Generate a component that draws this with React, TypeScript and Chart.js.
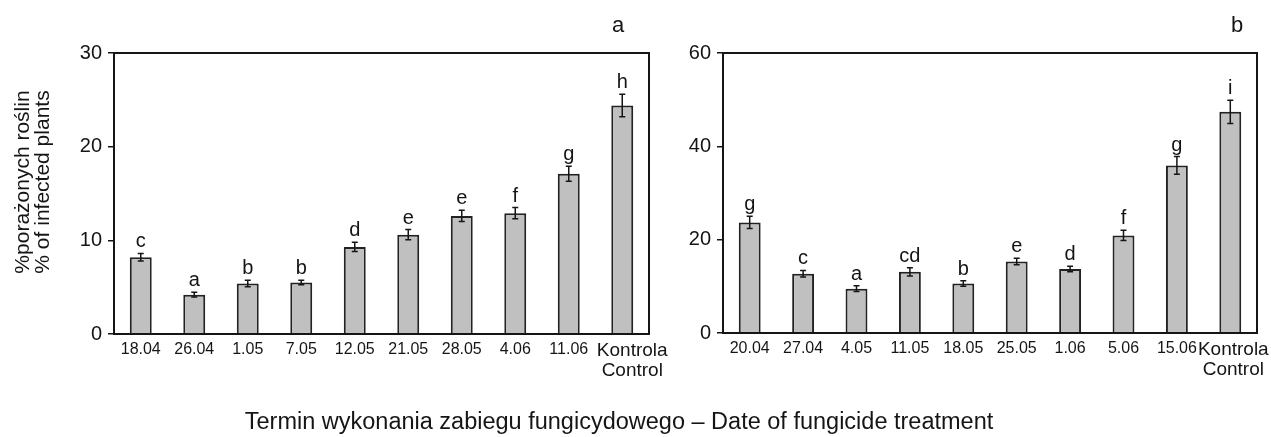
import React, { useEffect, useRef } from "react";
import { Chart, registerables } from "chart.js";

Chart.register(...registerables);

// ---- data ----
const categoriesA: (string | string[])[] = ["18.04", "26.04", "1.05", "7.05", "12.05", "21.05", "28.05", "4.06", "11.06", ["Kontrola", "Control"]];
const valuesA = [8.2, 4.2, 5.4, 5.5, 9.3, 10.6, 12.6, 12.9, 17.1, 24.4];
const errorsA = [0.4, 0.25, 0.35, 0.25, 0.5, 0.55, 0.6, 0.6, 0.8, 1.2];
const lettersA = ["c", "a", "b", "b", "d", "e", "e", "f", "g", "h"];

const categoriesB: (string | string[])[] = ["20.04", "27.04", "4.05", "11.05", "18.05", "25.05", "1.06", "5.06", "15.06", ["Kontrola", "Control"]];
const valuesB = [23.7, 12.7, 9.5, 13.1, 10.6, 15.3, 13.7, 20.9, 35.9, 47.4];
const errorsB = [1.3, 0.7, 0.6, 0.9, 0.6, 0.7, 0.6, 1.1, 1.9, 2.5];
const lettersB = ["g", "c", "a", "cd", "b", "e", "d", "f", "g", "i"];

const yTitleA = ["%porażonych roślin", "% of infected plants"];
const xTitle = "Termin wykonania zabiegu fungicydowego – Date of fungicide treatment";

const FONT = '"Liberation Sans", Arial, sans-serif';
const INK = "#151515";

type PanelProps = {
  categories: (string | string[])[];
  values: number[];
  errors: number[];
  letters: string[];
  panel: string;
  panelX: number;
  yMax: number;
  yStep: number;
  yTitle: string[] | null;
  yWidth: number;
  xHeight: number;
  padRight: number;
  width: number;
  left: number;
  labelShift: number;
};

function BarPanel(p: PanelProps) {
  const ref = useRef<HTMLCanvasElement | null>(null);
  useEffect(() => {
    if (!ref.current) return;
    const annot = {
      id: "annot",
      afterDatasetsDraw(chart: any) {
        const { ctx, chartArea } = chart;
        const x = chart.scales.x;
        const y = chart.scales.y;
        ctx.save();
        ctx.strokeStyle = INK;
        ctx.lineWidth = 1.5;
        p.values.forEach((v, i) => {
          const px = x.getPixelForValue(i);
          const top = y.getPixelForValue(v + p.errors[i]);
          const bot = y.getPixelForValue(v - p.errors[i]);
          ctx.beginPath();
          ctx.moveTo(px, top);
          ctx.lineTo(px, bot);
          ctx.moveTo(px - 3, top);
          ctx.lineTo(px + 3, top);
          ctx.moveTo(px - 3, bot);
          ctx.lineTo(px + 3, bot);
          ctx.stroke();
          ctx.fillStyle = INK;
          ctx.font = `20px ${FONT}`;
          ctx.textAlign = "center";
          ctx.textBaseline = "alphabetic";
          ctx.fillText(p.letters[i], px, top - 6);
        });
        // multi-line category labels (Kontrola / Control), slightly offset like the original
        p.categories.forEach((c, i) => {
          if (!Array.isArray(c)) return;
          const px = x.getPixelForValue(i) + p.labelShift;
          ctx.font = `19px ${FONT}`;
          ctx.textAlign = "center";
          ctx.textBaseline = "alphabetic";
          c.forEach((line, k) => ctx.fillText(line, px, chartArea.bottom + 22 + k * 20));
        });
        ctx.lineWidth = 2;
        ctx.strokeRect(chartArea.left, chartArea.top, chartArea.right - chartArea.left, chartArea.bottom - chartArea.top);
        ctx.font = `22px ${FONT}`;
        ctx.textAlign = "center";
        ctx.textBaseline = "alphabetic";
        ctx.fillText(p.panel, p.panelX, 32);
        if (p.yTitle) {
          ctx.save();
          ctx.translate(29, 182);
          ctx.rotate(-Math.PI / 2);
          ctx.font = `21px ${FONT}`;
          ctx.textAlign = "center";
          ctx.textBaseline = "alphabetic";
          ctx.fillText(p.yTitle[0], 0, 0);
          ctx.fillText(p.yTitle[1], 0, 19.5);
          ctx.restore();
        }
        ctx.restore();
      },
    };
    const chart = new Chart(ref.current, {
      type: "bar",
      data: {
        labels: p.categories as any,
        datasets: [
          {
            data: p.values,
            backgroundColor: "#c0c0c0",
            borderColor: "#222222",
            borderWidth: 2,
            barPercentage: 0.41,
            categoryPercentage: 1,
          },
        ],
      },
      options: {
        responsive: false,
        animation: false,
        devicePixelRatio: 1,
        layout: { padding: { top: 53, right: p.padRight, left: 0, bottom: 0 } },
        plugins: { legend: { display: false }, tooltip: { enabled: false }, title: { display: false } },
        scales: {
          x: {
            grid: { display: false, drawTicks: false },
            border: { display: false },
            ticks: {
              color: INK,
              padding: 6,
              maxRotation: 0,
              autoSkip: false,
              font: { family: FONT, size: 16 },
              callback: (_v: any, idx: number) => {
                const c = p.categories[idx];
                return Array.isArray(c) ? "" : c;
              },
            },
            afterFit: (s: any) => {
              s.height = p.xHeight;
            },
          },
          y: {
            min: 0,
            max: p.yMax,
            ticks: { stepSize: p.yStep, color: INK, padding: 6, font: { family: FONT, size: 20 } },
            grid: { drawOnChartArea: false, drawTicks: true, tickLength: 6, color: INK, lineWidth: 1.5 },
            border: { display: false },
            title: { display: false },
            afterFit: (s: any) => {
              s.width = p.yWidth;
            },
          },
        },
      },
      plugins: [annot],
    });
    return () => chart.destroy();
  }, []);
  return (
    <canvas
      ref={ref}
      width={p.width}
      height={437}
      style={{ position: "absolute", left: p.left, top: 0, width: p.width, height: 437 }}
    />
  );
}

export default function App() {
  return (
    <div style={{ position: "fixed", left: 0, top: 0, width: 1271, height: 437, background: "#fff", overflow: "hidden" }}>
      <BarPanel
        categories={categoriesA}
        values={valuesA}
        errors={errorsA}
        letters={lettersA}
        panel="a"
        panelX={618}
        yMax={30}
        yStep={10}
        yTitle={yTitleA}
        yWidth={114}
        xHeight={103}
        padRight={51}
        width={700}
        left={0}
        labelShift={10}
      />
      <BarPanel
        categories={categoriesB}
        values={valuesB}
        errors={errorsB}
        letters={lettersB}
        panel="b"
        panelX={597}
        yMax={60}
        yStep={20}
        yTitle={null}
        yWidth={83}
        xHeight={104}
        padRight={54}
        width={671}
        left={640}
        labelShift={3}
      />
      <div
        style={{
          position: "absolute",
          left: 0,
          top: 410,
          width: 1238,
          textAlign: "center",
          fontFamily: FONT,
          fontSize: 23.5,
          lineHeight: 1,
          color: INK,
          whiteSpace: "nowrap",
        }}
      >
        {xTitle}
      </div>
    </div>
  );
}
